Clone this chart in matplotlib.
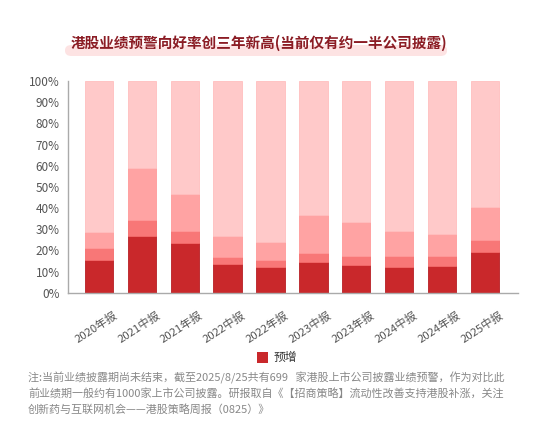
import numpy as np
import matplotlib.pyplot as plt
import matplotlib.transforms as mtransforms
from matplotlib.patches import FancyBboxPatch, Rectangle

plt.rcParams['font.family'] = ['Noto Sans CJK SC', 'DejaVu Sans']

# 报告期
periods = ['2020年报', '2021中报', '2021年报', '2022中报', '2022年报',
           '2023中报', '2023年报', '2024中报', '2024年报', '2025中报']

# 各层占比 (%), 自下而上
yuzeng = [15.4, 26.8, 23.3, 13.5, 12.3, 14.3, 13.1, 12.0, 12.4, 19.4]   # 预增
layer2 = [5.5, 7.7, 5.8, 3.2, 3.1, 4.6, 4.2, 5.2, 4.8, 5.5]
layer3 = [7.9, 24.2, 17.5, 9.9, 8.5, 17.8, 16.2, 11.9, 10.7, 15.7]
layer4 = [100 - a - b - c for a, b, c in zip(yuzeng, layer2, layer3)]

colors = ['#c9282b', '#f87777', '#ffa3a3', '#ffc9c9']
edges = ['#b71f24', '#f56a6a', '#ff9a9a', '#ffbfbf']

fig = plt.figure(figsize=(5.54, 4.29), dpi=100)
W, H = 554, 429
ax = fig.add_axes([68 / W, 1 - 292.7 / H, (518 - 68) / W, (292.7 - 81) / H])

x = np.arange(len(periods))
bottom = np.zeros(len(periods))
for vals, c, ec in zip([yuzeng, layer2, layer3, layer4], colors, edges):
    ax.bar(x, vals, bottom=bottom, width=0.66, color=c, edgecolor=ec, linewidth=0.6)
    bottom += np.array(vals)

ax.set_xlim(-0.72, 9.77)
ax.set_ylim(0, 100)
ax.set_yticks(np.arange(0, 101, 10))
ax.set_yticklabels([f'{v}%' for v in range(0, 101, 10)], fontsize=8.5)
ax.set_xticks(x)
ax.set_xticklabels(periods, rotation=33, ha='center', va='top', fontsize=8.2)
ax.tick_params(axis='both', length=0, colors='#555555')
ax.tick_params(axis='y', pad=6)
ax.tick_params(axis='x', pad=12)
shift = mtransforms.ScaledTranslation(-3 / 100, 0, fig.dpi_scale_trans)
for lbl in ax.get_xticklabels():
    lbl.set_transform(lbl.get_transform() + shift)
for s in ['top', 'right']:
    ax.spines[s].set_visible(False)
for s in ['left', 'bottom']:
    ax.spines[s].set_color('#aaaaaa')
    ax.spines[s].set_linewidth(1.0)

# 标题 + 高亮底色
hl = FancyBboxPatch((65 / W, 1 - 56 / H), (447 - 65) / W, 11 / H,
                    boxstyle='round,pad=0,rounding_size=0.012',
                    transform=fig.transFigure, facecolor='#fde3e3', edgecolor='none')
fig.patches.append(hl)
fig.text(259 / W, 1 - 43 / H, '港股业绩预警向好率创三年新高(当前仅有约一半公司披露)',
         ha='center', va='center', fontsize=10.5, fontweight='bold', color='#8b1c24')

# 图例
fig.patches.append(Rectangle((257 / W, 1 - 363 / H), 11 / W, 11 / H,
                             transform=fig.transFigure, facecolor=colors[0], edgecolor='none'))
fig.text(274 / W, 1 - 357.5 / H, '预增', ha='left', va='center', fontsize=8.5, color='#333333')

note = ('注:当前业绩披露期尚未结束，截至2025/8/25共有699   家港股上市公司披露业绩预警，作为对比此\n'
        '前业绩期一般约有1000家上市公司披露。研报取自《【招商策略】流动性改善支持港股补涨，关注\n'
        '创新药与互联网机会——港股策略周报（0825）》')
fig.text(28 / W, 1 - 372 / H, note, ha='left', va='top', fontsize=7.95, color='#888888',
         linespacing=1.5)

fig.savefig('out.png', dpi=100)
